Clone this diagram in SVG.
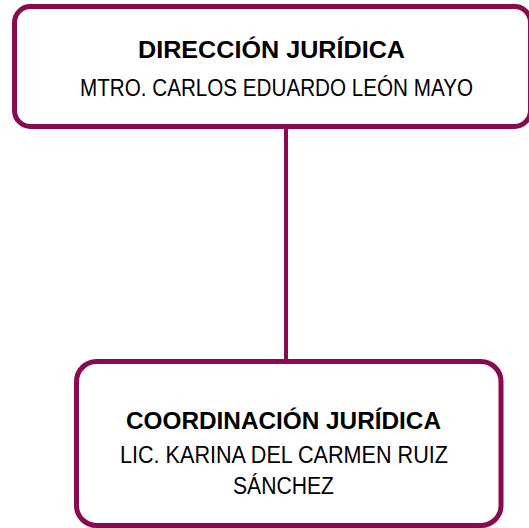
<svg xmlns="http://www.w3.org/2000/svg" width="529" height="528" viewBox="0 0 529 528">
  <style>
    .box { fill: #ffffff; stroke: #8a0a4f; stroke-width: 5; }
    .conn { stroke: #8a0a4f; stroke-width: 4; fill: none; }
    .t { font-family: "Liberation Sans", Arial, sans-serif; fill: #000000; text-anchor: middle; }
    .b { font-weight: bold; font-size: 24px; }
    .r { font-size: 23px; }
  </style>
  <rect width="529" height="528" fill="#ffffff"/>
  <g id="connectors">
    <line class="conn" x1="286" y1="128" x2="286" y2="360"/>
  </g>
  <g id="node-direccion">
    <rect class="box" x="14.5" y="6.5" width="516" height="120" rx="16" ry="16"/>
    <text class="t b" x="271.5" y="58" textLength="267" lengthAdjust="spacingAndGlyphs">DIRECCIÓN JURÍDICA</text>
    <text class="t r" x="276.5" y="96" textLength="393" lengthAdjust="spacingAndGlyphs">MTRO. CARLOS EDUARDO LEÓN MAYO</text>
  </g>
  <g id="node-coordinacion">
    <rect class="box" x="76.5" y="361.5" width="424.5" height="164" rx="20" ry="20"/>
    <text class="t b" x="283.5" y="429" textLength="315" lengthAdjust="spacingAndGlyphs">COORDINACIÓN JURÍDICA</text>
    <text class="t r" x="284" y="463" textLength="328" lengthAdjust="spacingAndGlyphs">LIC. KARINA DEL CARMEN RUIZ</text>
    <text class="t r" x="283.5" y="494" textLength="101" lengthAdjust="spacingAndGlyphs">SÁNCHEZ</text>
  </g>
</svg>
